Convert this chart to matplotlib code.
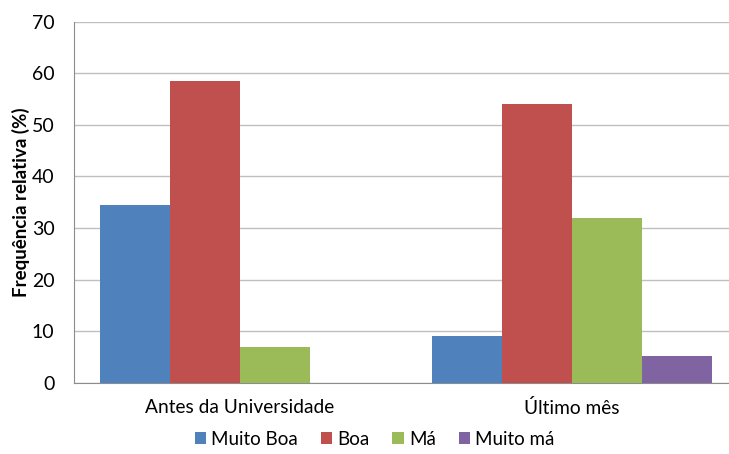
import matplotlib.pyplot as plt
import numpy as np

# Data
categories = ['Antes da Universidade', 'Último mês']
series_names = ['Muito Boa', 'Boa', 'Má', 'Muito má']
muito_boa = [34.5, 9.1]
boa = [58.5, 54.0]
ma = [7.0, 32.0]
muito_ma = [0.0, 5.1]
colors = ['#4F81BD', '#C0504D', '#9BBB59', '#8064A2']

plt.rcParams['font.family'] = ['Lato', 'DejaVu Sans']

fig = plt.figure(figsize=(7.29, 4.54), dpi=100)
ax = fig.add_axes([74 / 729, 1 - 382.7 / 454, 664 / 729, 361 / 454])

x = np.arange(len(categories))
w = 0.211
all_series = [muito_boa, boa, ma, muito_ma]
for i, (vals, name) in enumerate(zip(all_series, series_names)):
    ax.bar(x + (i - 1.5) * w, vals, width=w, color=colors[i], label=name, zorder=3)

ax.set_xlim(-0.5, 1.5)
ax.set_ylim(0, 70)
ax.set_yticks(range(0, 71, 10))
ax.set_xticks(x)
ax.set_xticklabels(categories, fontsize=13.8)
ax.tick_params(axis='y', length=0, pad=14, labelsize=14)
ax.tick_params(axis='x', length=0, pad=12)
ax.grid(axis='y', color='#BFBFBF', linewidth=1, zorder=0)

for s in ['top', 'right']:
    ax.spines[s].set_visible(False)
ax.spines['left'].set_color('#8C8C8C')
ax.spines['bottom'].set_color('#8C8C8C')
ax.axhline(70, color='#8C8C8C', linewidth=1.2, zorder=1)

ax.set_ylabel('Frequência relativa (%)', fontsize=13.5, fontweight='bold', labelpad=1)

fig.legend(loc='center', bbox_to_anchor=(0.514, 0.033), ncol=4, frameon=False,
           fontsize=13.5, handlelength=0.6, handleheight=0.6, handletextpad=0.3,
           columnspacing=1.2)

plt.savefig('out.png', dpi=100)
